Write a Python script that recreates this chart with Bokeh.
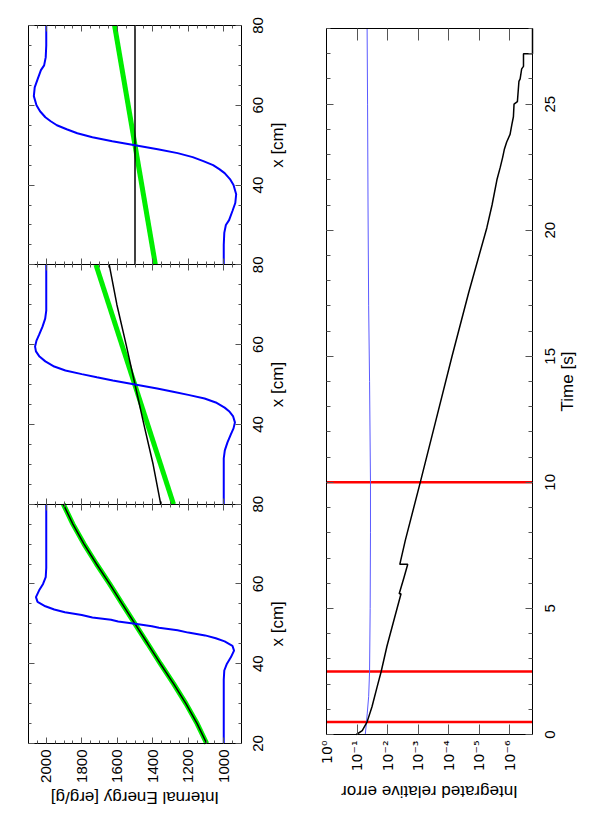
from math import pi, sqrt, log10
from bokeh.plotting import figure
from bokeh.models import (Range1d, LinearAxis, LogAxis, FixedTicker, Label,
                          ColumnDataSource, CustomJSTickFormatter)
from bokeh.core.properties import value
from bokeh.layouts import row
from bokeh.embed import file_html
from bokeh.resources import INLINE

FONT = "Liberation Sans"
TICK_COLOR = "#555555"

# ---------------- axes / ticks ----------------
E_RANGE = (2100, 900)                      # Internal energy axis (drawn reversed)
E_MAJOR = [1000, 1200, 1400, 1600, 1800, 2000]
E_MINOR = list(range(900, 2101, 50))
XCM_RANGE = (20, 80)
XCM_MAJOR = [20, 40, 60, 80]
XCM_MINOR = list(range(20, 81, 5))
T_RANGE = (0, 28)
T_MAJOR = [0, 5, 10, 15, 20, 25]
T_MINOR = list(range(0, 29))
ERR_RANGE = (1.0, 1.8e-7)
ERR_MAJOR = [1e0, 1e-1, 1e-2, 1e-3, 1e-4, 1e-5, 1e-6]
SNAP_T = [0.5, 2.5, 10.0]

# ---------------- panel A (t = 0.5 s) ----------------
XA_BLUE = [20, 36, 38.3, 40, 41.6, 43.3, 44.5, 45.6, 46.4, 47.1, 47.8, 48.4, 49.0, 49.4, 50.0,
           50.6, 51.0, 51.6, 52.2, 52.9, 53.6, 54.4, 55.5, 56.7, 58.4, 60.0, 61.7, 64.0, 80]
EA_BLUE = [1000, 1000, 997, 982, 960, 942, 951, 995, 1045, 1105, 1200, 1260, 1365, 1405, 1500,
           1595, 1635, 1740, 1800, 1895, 1955, 2005, 2049, 2058, 2040, 2018, 2003, 2000, 2000]
XA_NUM = [20, 25, 30, 35, 40, 45, 50, 55, 60, 65, 70, 75, 80]
EA_NUM = [1096, 1150, 1213, 1283, 1357, 1428, 1500, 1572, 1643, 1717, 1787, 1850, 1904]
XA_ANA = [20, 25, 30, 35, 40, 45, 50, 55, 60, 65, 70, 75, 80]
EA_ANA = [1096, 1150, 1213, 1283, 1357, 1428, 1500, 1572, 1643, 1717, 1787, 1850, 1904]

# ---------------- panel B (t = 2.5 s) ----------------
XB_BLUE = [20, 31.5, 33.5, 35.5, 37.5, 39.0, 40.5, 42.0, 43.3, 44.2, 45.5, 46.5, 47.4, 48.2, 49.0,
           50.0, 51.0, 51.8, 52.6, 53.5, 54.5, 55.8, 57.0, 58.3, 59.5, 61.0, 62.5, 64.5, 66.5, 68.5, 80]
EB_BLUE = [1000, 1000, 994, 979, 960, 945, 937, 947, 970, 995, 1045, 1108, 1200, 1285, 1375,
           1500, 1625, 1715, 1800, 1892, 1955, 2005, 2038, 2058, 2063, 2055, 2040, 2021, 2006, 2000, 2000]
XB_NUM = [20, 30, 40, 50, 60, 70, 80]
EB_NUM = [1355, 1398, 1450, 1500, 1550, 1602, 1645]
XB_ANA = [20, 80]
EB_ANA = [1283, 1720]

# ---------------- panel C (t = 10 s) ----------------
XC_BLUE = [20, 25, 28, 30, 31.2, 33.5, 35.5, 37.7, 40, 41.5, 43, 44, 45, 46, 47, 48, 49, 50,
           51, 52, 53, 54, 55, 56, 57, 58.5, 60, 62.3, 64.5, 66.5, 68.8, 70, 72, 75, 80]
EC_BLUE = [1000, 1000, 997, 988, 970, 951, 935, 930, 945, 965, 995, 1025, 1060, 1115, 1175, 1260, 1372, 1500,
           1628, 1740, 1825, 1885, 1940, 1975, 2005, 2035, 2055, 2070, 2065, 2049, 2030, 2012, 2003, 2000, 2000]
XC_NUM = [20, 80]
EC_NUM = [1500, 1500]
XC_ANA = [20, 80]
EC_ANA = [1385, 1615]

# ---------------- integrated relative error vs time ----------------
T_BLACK = [0, 0.15, 0.5, 1.1, 1.9, 2.5, 3.5, 4.5, 5.58, 5.58, 6.2, 6.75, 6.75, 7.7, 10, 12.5, 15, 17.5,
           20.1, 21, 22, 22.5, 22.9, 23.2, 23.5, 23.8, 24.2, 24.5, 25.0, 25.1, 25.9, 26.0, 26.4, 26.5,
           27.0, 27.0, 28.0]
ERR_BLACK = [0.105, 0.0676, 0.0468, 0.0324, 0.0219, 0.0162, 0.0105, 6.31e-3, 3.63e-3, 4.17e-3, 2.95e-3,
             2.19e-3, 3.98e-3, 2.63e-3, 8.51e-4, 2.57e-4, 7.76e-5, 2.24e-5, 5.62e-6, 3.80e-6, 2.63e-6,
             2.04e-6, 1.70e-6, 1.51e-6, 1.26e-6, 9.77e-7, 8.51e-7, 7.59e-7, 7.24e-7, 5.62e-7, 5.01e-7,
             4.57e-7, 4.07e-7, 3.55e-7, 3.55e-7, 1.8e-7, 1.8e-7]
T_BLUE = [0, 0.5, 1.5, 2.5, 5, 8, 10, 14, 17, 21, 25, 28]
ERR_BLUE = [0.0537, 0.0490, 0.0417, 0.0389, 0.0372, 0.0363, 0.0363, 0.0389, 0.0417, 0.0437, 0.0452, 0.0468]

# ---------------- layout (pixels, figure-local, origin top-left) ----------------
FIG_H = 810
TOP_W = 300
TOP_BOX = (28, 241, 25, 743)     # left, right, top, bottom of the three stacked panels
ERR_W = 285
ERR_BOX = (26, 232, 28, 734)     # left, right, top, bottom of the error panel


def extent(v0, v1, p0, p1, total):
    """Range end points so that value v0 sits at pixel p0 and v1 at pixel p1 (pixels from range start)."""
    k = (v1 - v0) / (p1 - p0)
    return v0 - p0 * k, v0 + (total - p0) * k


def style_ticks(ax, major_in, minor_in, major_out=0, minor_out=0, labels=False):
    ax.major_tick_in = major_in
    ax.major_tick_out = major_out
    ax.minor_tick_in = minor_in
    ax.minor_tick_out = minor_out
    ax.major_tick_line_color = TICK_COLOR
    ax.minor_tick_line_color = TICK_COLOR
    ax.axis_line_color = "black"
    if labels:
        ax.major_label_text_font = FONT
        ax.major_label_text_font_size = "15px"
        ax.major_label_text_color = "black"
    else:
        ax.major_label_text_color = None
    return ax


def base_fig(width, x_range, y_range, **kw):
    p = figure(frame_width=width, frame_height=FIG_H, x_range=x_range, y_range=y_range,
               min_border=0, x_axis_location=None, y_axis_location=None,
               toolbar_location=None, output_backend="svg", outline_line_color=None,
               background_fill_color="white", border_fill_color="white", **kw)
    p.grid.visible = False
    return p


# =============== left: three energy profiles ===============
L, R, T, B = TOP_BOX
panel_h = (B - T) / 3
names = ["default", "B", "C"]
y_ext = {}
for k, nm in enumerate(names):
    bottom_px = (FIG_H - B) + k * panel_h
    y_ext[nm] = extent(XCM_RANGE[0], XCM_RANGE[1], bottom_px, bottom_px + panel_h, FIG_H)

p_top = base_fig(TOP_W, Range1d(*extent(E_RANGE[0], E_RANGE[1], L, R, TOP_W)),
                 Range1d(*y_ext["default"]))
p_top.extra_y_ranges = {"B": Range1d(*y_ext["B"]), "C": Range1d(*y_ext["C"])}

e_ticker = FixedTicker(ticks=E_MAJOR, minor_ticks=E_MINOR)
xcm_ticker = FixedTicker(ticks=XCM_MAJOR, minor_ticks=XCM_MINOR)
e_bounds = (min(E_RANGE), max(E_RANGE))

ax = LinearAxis(ticker=e_ticker, fixed_location=XCM_RANGE[0], bounds=e_bounds,
                major_label_orientation=pi / 2, major_label_standoff=6)
style_ticks(ax, 6, 3, labels=True)
p_top.add_layout(ax, "below")

ax = LinearAxis(ticker=e_ticker, y_range_name="C", fixed_location=XCM_RANGE[1], bounds=e_bounds)
style_ticks(ax, 6, 3)
p_top.add_layout(ax, "above")

for nm in ("default", "B"):
    ax = LinearAxis(ticker=e_ticker, y_range_name=nm, fixed_location=XCM_RANGE[1], bounds=e_bounds)
    style_ticks(ax, 6, 3, major_out=6, minor_out=3)
    p_top.add_layout(ax, "below")

panels = [
    ("default", XA_BLUE, EA_BLUE, XA_NUM, EA_NUM, XA_ANA, EA_ANA, [20, 40, 60, 80]),
    ("B", XB_BLUE, EB_BLUE, XB_NUM, EB_NUM, XB_ANA, EB_ANA, [40, 60, 80]),
    ("C", XC_BLUE, EC_BLUE, XC_NUM, EC_NUM, XC_ANA, EC_ANA, [40, 60, 80]),
]
for name, xb, eb, xn, en, xa, ea, lab in panels:
    axl = LinearAxis(ticker=xcm_ticker, y_range_name=name, bounds=XCM_RANGE, fixed_location=E_RANGE[0])
    style_ticks(axl, 6, 3)
    p_top.add_layout(axl, "left")
    axr = LinearAxis(ticker=xcm_ticker, y_range_name=name, bounds=XCM_RANGE, fixed_location=E_RANGE[1])
    style_ticks(axr, 6, 3)
    p_top.add_layout(axr, "right")

    p_top.line(ea, xa, y_range_name=name, line_color="#00ee00", line_width=5)
    p_top.line(en, xn, y_range_name=name, line_color="black", line_width=1.5)
    p_top.line(eb, xb, y_range_name=name, line_color="#0000ff", line_width=2)

    src = ColumnDataSource(dict(x=[E_RANGE[1]] * len(lab), y=lab, text=[str(v) for v in lab]))
    p_top.text(x="x", y="y", text="text", source=src, y_range_name=name, angle=pi / 2, x_offset=11,
               text_align="center", text_baseline="top", text_font=value(FONT),
               text_font_size="15px", text_color="black")
    p_top.add_layout(Label(x=E_RANGE[1], y=(XCM_RANGE[0] + XCM_RANGE[1]) / 2, y_range_name=name,
                           x_offset=36, text="x [cm]", angle=pi / 2, text_align="center",
                           text_baseline="middle", text_font=FONT, text_font_size="17px",
                           text_color="black"))

p_top.add_layout(Label(x=(E_RANGE[0] + E_RANGE[1]) / 2, y=XCM_RANGE[0], y_offset=-54,
                       text="Internal Energy [erg/g]", angle=pi, text_align="center",
                       text_baseline="middle", text_font=FONT, text_font_size="17px",
                       text_color="black"))

# =============== right: integrated relative error ===============
L, R, T, B = ERR_BOX
lx = extent(log10(ERR_RANGE[0]), log10(ERR_RANGE[1]), L, R, ERR_W)
ty = extent(T_RANGE[0], T_RANGE[1], FIG_H - B, FIG_H - T, FIG_H)
p_err = base_fig(ERR_W, Range1d(10 ** lx[0], 10 ** lx[1]), Range1d(*ty), x_axis_type="log")

err_ticker = FixedTicker(ticks=ERR_MAJOR, minor_ticks=[])
t_ticker = FixedTicker(ticks=T_MAJOR, minor_ticks=T_MINOR)
err_bounds = (min(ERR_RANGE), max(ERR_RANGE))
sup_fmt = CustomJSTickFormatter(code=r"""
const e = Math.round(Math.log10(tick));
const sup = {"-": "\u207b", "0": "\u2070", "1": "\u00b9", "2": "\u00b2", "3": "\u00b3",
             "4": "\u2074", "5": "\u2075", "6": "\u2076", "7": "\u2077", "8": "\u2078", "9": "\u2079"};
return "10" + String(e).split("").map(c => sup[c]).join("");
""")

ax = LogAxis(ticker=err_ticker, formatter=sup_fmt, fixed_location=T_RANGE[0], bounds=err_bounds,
             major_label_orientation=pi / 2, major_label_standoff=6)
style_ticks(ax, 10, 0, labels=True)
ax.major_label_text_font = "DejaVu Sans"
ax.major_label_text_font_size = "14px"
p_err.add_layout(ax, "below")
ax = LogAxis(ticker=err_ticker, fixed_location=T_RANGE[1], bounds=err_bounds)
style_ticks(ax, 12, 0)
p_err.add_layout(ax, "above")
ax = LinearAxis(ticker=t_ticker, fixed_location=ERR_RANGE[0], bounds=T_RANGE)
style_ticks(ax, 7, 4)
p_err.add_layout(ax, "left")
ax = LinearAxis(ticker=t_ticker, fixed_location=ERR_RANGE[1], bounds=T_RANGE)
style_ticks(ax, 7, 4)
p_err.add_layout(ax, "right")

n_snap = len(SNAP_T)
p_err.segment(x0=[ERR_RANGE[0]] * n_snap, x1=[ERR_RANGE[1]] * n_snap, y0=SNAP_T, y1=SNAP_T,
              line_color="#ff0000", line_width=2.5)

p_err.line(ERR_BLUE, T_BLUE, line_color="#5a5aff", line_width=1)
p_err.line(ERR_BLACK, T_BLACK, line_color="black", line_width=1.5)

tsrc = ColumnDataSource(dict(x=[ERR_RANGE[1]] * len(T_MAJOR), y=T_MAJOR, text=[str(v) for v in T_MAJOR]))
p_err.text(x="x", y="y", text="text", source=tsrc, angle=pi / 2, x_offset=12,
           text_align="center", text_baseline="top", text_font=value(FONT),
           text_font_size="15px", text_color="black")
p_err.add_layout(Label(x=ERR_RANGE[1], y=(T_RANGE[0] + T_RANGE[1]) / 2, x_offset=35, text="Time [s]",
                       angle=pi / 2, text_align="center", text_baseline="middle", text_font=FONT,
                       text_font_size="17px", text_color="black"))
p_err.add_layout(Label(x=sqrt(ERR_RANGE[0] * ERR_RANGE[1]), y=T_RANGE[0], y_offset=-57,
                       text="Integrated relative error", angle=pi, text_align="center",
                       text_baseline="middle", text_font=FONT, text_font_size="17px",
                       text_color="black"))

layout = row(p_top, p_err)
with open("out.html", "w", encoding="utf-8") as f:
    f.write(file_html(layout, INLINE))
